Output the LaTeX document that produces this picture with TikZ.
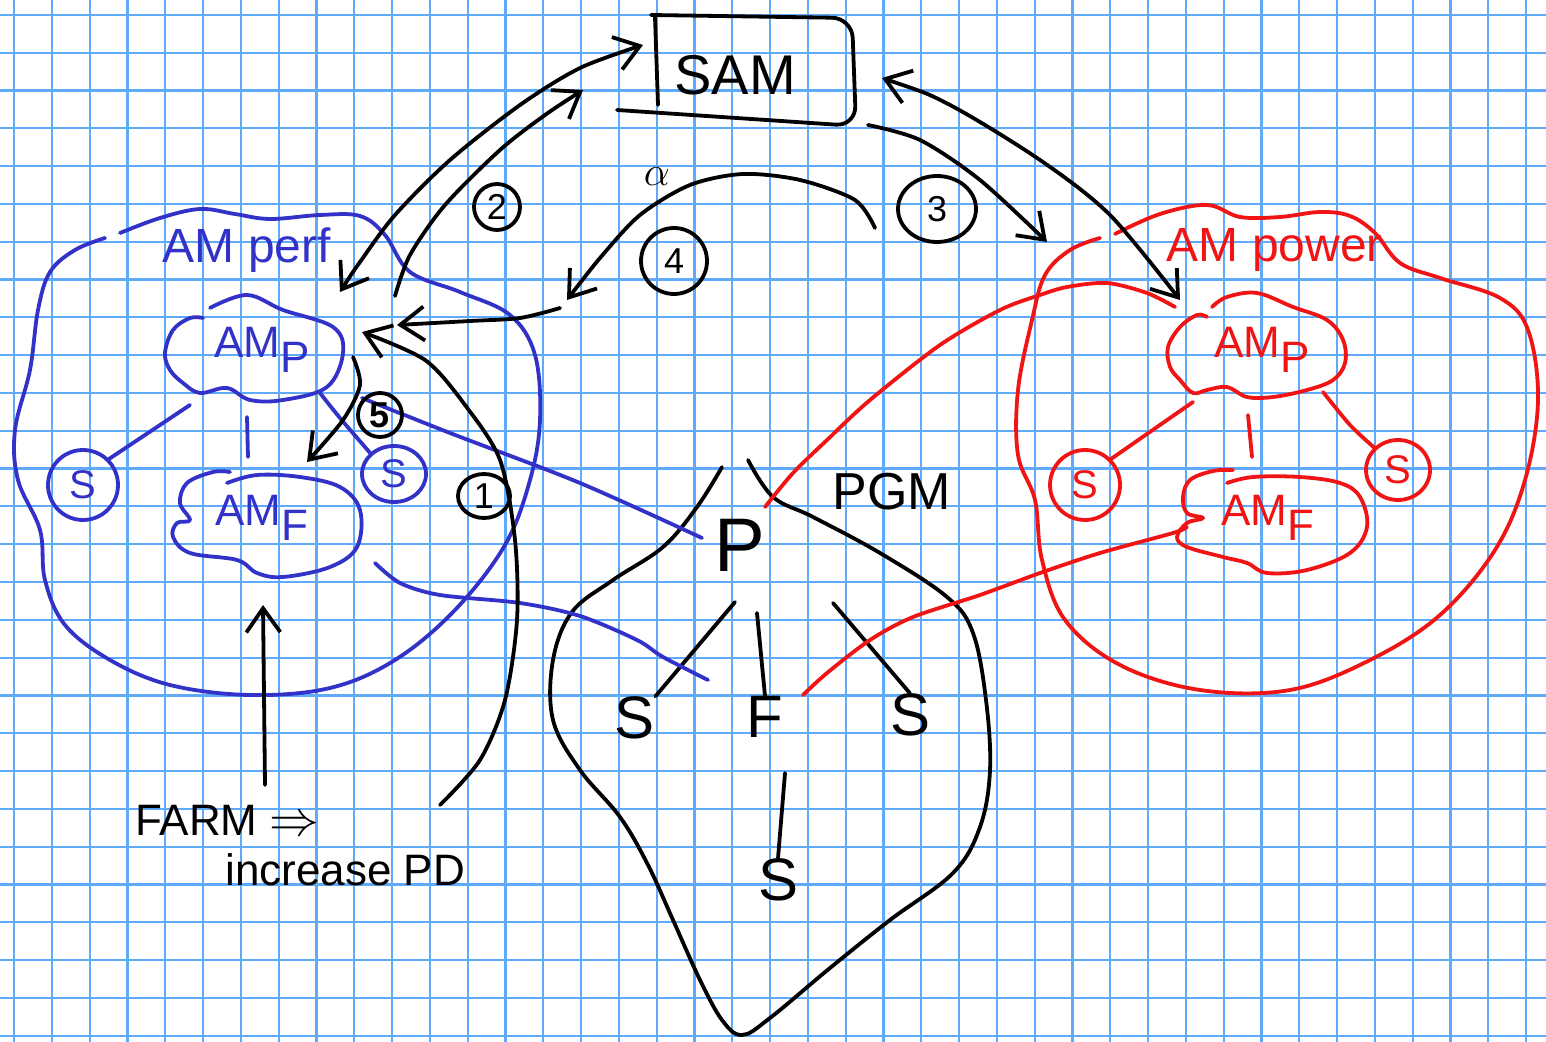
\documentclass[tikz,border=0pt]{standalone}
\usepackage{fontspec}
\setmainfont{Liberation Sans}
\usetikzlibrary{arrows.meta,shapes.geometric}
\definecolor{gridc}{RGB}{95,170,250}
\definecolor{inkblue}{RGB}{50,50,200}
\definecolor{inkred}{RGB}{240,20,20}
\newcommand{\myfs}[1]{\fontsize{#1}{#1}\selectfont}
\tikzset{
  gridline/.style={gridc, line width=1.1pt},
  ink/.style={line width=1.9pt, line cap=round, line join=round},
  barb/.style={-{Straight Barb[length=12pt,width=17pt]}},
  dbarb/.style={{Straight Barb[length=12pt,width=17pt]}-{Straight Barb[length=12pt,width=17pt]}},
  lbl/.style={inner sep=0pt, font=\myfs{22pt}},
  scirc/.style={ellipse, draw, ink, inner sep=0pt, font=\myfs{20pt}},
  ncirc/.style={ellipse, draw, black, ink, inner sep=0pt, font=\myfs{18pt}},
  cloud/.style={ink, smooth, tension=0.6}
}
\begin{document}
\begin{tikzpicture}[x=0.5pt,y=-0.5pt]
\useasboundingbox (0,0) rectangle (1546,1042);
\fill[white] (0,0) rectangle (1546,1042);
% grid paper
\foreach \i in {0,...,40} \draw[gridline] ({14+37.8*\i},0) -- ({14+37.8*\i},1042);
\foreach \i in {0,...,27} \draw[gridline] (0,{15+37.8*\i}) -- (1546,{15+37.8*\i});

% ---------- SAM ----------
\node[lbl, font=\myfs{28pt}] (sam) at (735,75) {SAM};
\draw[ink, rounded corners=10pt] (651,15) -- (852,18) -- (856,126) -- (617,110);
\draw[ink] (658,105) -- (655,17);

% ---------- AM perf (blue) ----------
\draw[inkblue, ink] plot[cloud] coordinates {(120,233) (160,218) (200,209) (235,214) (270,219) (320,215) (360,216) (385,235) (410,272) (460,292) (510,315) (535,355) (540,420) (530,480) (505,545) (455,610) (395,660) (330,688) (250,695) (170,685) (110,660) (65,625) (45,580) (40,530) (18,480) (15,430) (30,370) (38,310) (50,272) (75,250) (105,238)};
\node[lbl, inkblue, font=\myfs{24pt}] (amperf) at (247,250) {AM perf};
\draw[inkblue, ink] plot[cloud] coordinates {(210,308) (247,295) (283,310) (333,327) (343,353) (327,387) (283,400) (250,400) (227,388) (200,393) (183,383) (170,370) (165,353) (173,330) (190,318) (203,318)};
\node[lbl, inkblue] (ampA) at (262,350) {AM\raisebox{-0.35em}{P}};
\draw[inkblue, ink] plot[cloud] coordinates {(230,472) (213,472) (187,483) (180,503) (190,520) (177,523) (173,537) (190,553) (237,560) (257,573) (283,577) (330,567) (357,547) (360,510) (340,487) (300,477) (257,475) (227,483)};
\node[lbl, inkblue] (amfA) at (262,518) {AM\raisebox{-0.35em}{F}};
\node[scirc, inkblue, minimum width=35pt, minimum height=35pt] (sLA) at (83,485) {S};
\node[scirc, inkblue, minimum width=32pt, minimum height=28pt] (sRA) at (394,474) {S};
\coordinate (ampAsw) at (190,405);
\coordinate (ampAse) at (320,393);
\coordinate (ampAs) at (247,417);
\coordinate (amfAn) at (248,457);
\draw[inkblue, ink] (sLA.north east) -- (ampAsw);
\draw[inkblue, ink] (ampAs) -- (amfAn);
\draw[inkblue, ink] plot[smooth] coordinates {(ampAse) (340,418) (sRA.north west)};

% ---------- AM power (red) ----------
\draw[inkred, ink] plot[cloud] coordinates {(1115,234) (1160,214) (1207,205) (1240,217) (1280,217) (1320,212) (1350,216) (1375,233) (1400,263) (1440,278) (1500,298) (1528,330) (1538,400) (1525,480) (1495,550) (1440,615) (1370,660) (1290,690) (1200,690) (1120,665) (1065,620) (1042,560) (1035,500) (1018,455) (1018,390) (1032,320) (1045,275) (1070,250) (1100,238)};
\node[lbl, inkred, font=\myfs{24pt}] (ampower) at (1275,250) {AM power};
\draw[inkred, ink] plot[cloud] coordinates {(1212,307) (1227,297) (1257,293) (1293,307) (1327,320) (1343,340) (1345,363) (1333,380) (1307,390) (1273,397) (1247,397) (1227,387) (1207,390) (1193,393) (1180,380) (1170,367) (1168,347) (1180,327) (1197,315) (1207,317)};
\node[lbl, inkred] (ampB) at (1262,350) {AM\raisebox{-0.35em}{P}};
\draw[inkred, ink] plot[cloud] coordinates {(1233,470) (1213,471) (1190,480) (1183,497) (1187,513) (1203,518) (1187,523) (1177,537) (1187,547) (1223,557) (1247,563) (1267,573) (1307,570) (1350,553) (1367,527) (1360,497) (1340,483) (1300,477) (1253,477) (1227,483)};
\node[lbl, inkred] (amfB) at (1268,518) {AM\raisebox{-0.35em}{F}};
\node[scirc, inkred, minimum width=35pt, minimum height=35pt] (sLB) at (1085,485) {S};
\node[scirc, inkred, minimum width=32pt, minimum height=30pt] (sRB) at (1398,470) {S};
\coordinate (ampBsw) at (1193,402);
\coordinate (ampBse) at (1323,392);
\coordinate (ampBs) at (1248,415);
\coordinate (amfBn) at (1252,457);
\draw[inkred, ink] (sLB.north east) -- (ampBsw);
\draw[inkred, ink] (ampBs) -- (amfBn);
\draw[inkred, ink] plot[smooth] coordinates {(ampBse) (1350,425) (sRB.north west)};

% ---------- PGM ----------
\draw[ink] plot[smooth, tension=0.6] coordinates {(722,467) (697,507) (663,547) (613,580) (572,612) (553,660) (553,720) (580,770) (620,817) (648,865) (673,920) (700,980) (722,1020) (742,1035) (770,1018) (830,968) (890,920) (953,873) (980,827) (990,770) (986,700) (973,633) (947,597) (880,553) (813,517) (773,497) (748,460)};
\node[lbl, font=\myfs{38pt}] (P) at (740,545) {P};
\node[lbl, font=\myfs{26pt}] (pgm) at (892,492) {PGM};
\node[lbl, font=\myfs{30pt}] (sa) at (635,718) {S};
\node[lbl, font=\myfs{30pt}] (fa) at (765,717) {F};
\node[lbl, font=\myfs{30pt}] (sb) at (910,715) {S};
\node[lbl, font=\myfs{30pt}] (sc) at (778,880) {S};
\coordinate (Psw) at (735,602);
\coordinate (Ps) at (757,613);
\coordinate (Pse) at (833,603);
\draw[ink] (Psw) -- (sa.north east);
\draw[ink] (Ps) -- (fa.north);
\draw[ink] (Pse) -- (sb.north);
\coordinate (fs) at (785,773);
\draw[ink] (fs) -- (sc.north);

% links AM -> PGM
\coordinate (ampAe) at (362,398);
\coordinate (PwA) at (702,538);
\coordinate (amfAe) at (375,563);
\coordinate (SaA) at (708,680);
\draw[inkblue, ink] plot[smooth] coordinates {(ampAe) (450,433) (580,483) (PwA)};
\draw[inkblue, ink] plot[smooth] coordinates {(amfAe) (400,583) (440,595) (520,603) (580,616) (637,640) (663,657) (SaA)};
\coordinate (PnB) at (765,507);
\coordinate (ampBw) at (1175,307);
\coordinate (FnB) at (803,695);
\coordinate (amfBw) at (1187,527);
\draw[inkred, ink] plot[smooth] coordinates {(PnB) (793,473) (827,440) (870,400) (940,345) (1000,310) (1040,295) (1067,287) (1107,283) (1147,293) (ampBw)};
\draw[inkred, ink] plot[smooth] coordinates {(FnB) (827,673) (870,640) (913,617) (980,595) (1040,573) (1100,553) (1173,533) (amfBw)};

% ---------- arrows ----------
\coordinate (samW) at (643,45);
\coordinate (samWb) at (583,90);
\coordinate (perfA) at (340,292);
\coordinate (perfB) at (395,296);
\draw[ink, dbarb] plot[smooth] coordinates {(perfA) (360,262) (395,215) (450,160) (520,105) (580,68) (samW)};
\draw[ink, barb] plot[smooth] coordinates {(perfB) (410,255) (445,205) (500,150) (545,115) (samWb)};
\node[ncirc, minimum width=23pt, minimum height=23pt] (c2) at (497,207) {2};

\coordinate (samE) at (868,125);
\coordinate (samEb) at (882,78);
\coordinate (powA) at (1047,242);
\coordinate (powB) at (1180,300);
\draw[ink, barb] plot[smooth] coordinates {(samE) (920,140) (980,180) (powA)};
\draw[ink, dbarb] plot[smooth] coordinates {(samEb) (950,105) (1040,160) (1110,215) (powB)};
\node[ncirc, minimum width=39pt, minimum height=33pt] (c3) at (937,209) {3};

\coordinate (alS) at (875,228);
\coordinate (alE) at (567,300);
\coordinate (alF) at (560,308);
\coordinate (perfC) at (397,325);
\draw[ink, barb] plot[smooth] coordinates {(alS) (855,200) (800,180) (743,174) (690,185) (640,215) (600,258) (alE)};
\draw[ink, barb] plot[smooth] coordinates {(alF) (520,318) (470,321) (perfC)};
\node[lbl, font=\myfs{22pt}] (alpha) at (657,177) {$\alpha$};
\node[ncirc, minimum width=33pt, minimum height=33pt] (c4) at (674,261) {4};

\coordinate (farmS) at (440,805);
\coordinate (perfD) at (362,332);
\draw[ink, barb] plot[smooth] coordinates {(farmS) (480,760) (505,700) (517,620) (515,540) (500,460) (465,405) (425,360) (perfD)};
\node[ncirc, minimum width=26pt, minimum height=22pt] (c1) at (484,496) {1};

\coordinate (ampA5) at (353,357);
\coordinate (amfA5) at (307,462);
\draw[ink, barb] plot[smooth] coordinates {(ampA5) (360,385) (343,420) (amfA5)};
\node[ncirc, minimum width=22pt, minimum height=22pt, font=\myfs{18pt}\bfseries] (c5) at (380,415) {5};

% ---------- FARM ----------
\node[lbl, anchor=west] (farm) at (135,820) {FARM {\myfs{30pt}$\Rightarrow$}};
\node[lbl, anchor=west] (incr) at (225,870) {increase PD};
\coordinate (farmUp) at (265,785);
\coordinate (amfAs) at (263,605);
\draw[ink, barb] (farmUp) -- (amfAs);
\end{tikzpicture}
\end{document}
